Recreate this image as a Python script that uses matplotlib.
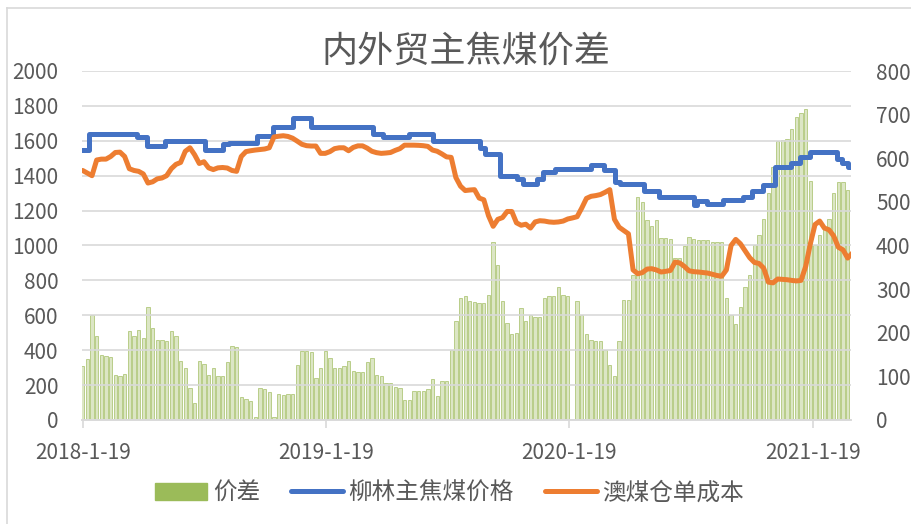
import numpy as np
import pandas as pd
import matplotlib
matplotlib.use('Agg')
import matplotlib.pyplot as plt
from matplotlib.lines import Line2D
from matplotlib.patches import Patch

plt.rcParams['font.family'] = ['Noto Sans CJK SC', 'DejaVu Sans']

# weekly spread (right axis)
spread = [124, 140, 240, 192, 150, 146, 144, 104, 102, 106,
          203, 192, 207, 188, 260, 211, 184, 184, 182, 203,
          192, 135, 120, 74, 40, 135, 128, 104, 120, 102,
          100, 134, 169, 168, 52, 48, 44, 8, 74, 72,
          64, 7, 59, 58, 60, 60, 127, 158, 159, 156,
          97, 120, 158, 142, 120, 120, 124, 135, 112, 110,
          110, 132, 142, 104, 102, 85, 84, 76, 74, 45,
          45, 66, 66, 66, 72, 93, 55, 89, 89, 160,
          226, 280, 284, 272, 270, 268, 268, 287, 409, 356,
          272, 222, 197, 200, 257, 226, 240, 236, 236, 280,
          284, 284, 306, 287, 284, 0, 272, 240, 196, 184,
          180, 180, 160, 127, 100, 180, 276, 276, 333, 512,
          500, 459, 444, 459, 417, 417, 416, 371, 371, 400,
          420, 416, 413, 413, 412, 409, 409, 409, 280, 240,
          219, 260, 306, 333, 402, 424, 460, 520, 580, 640,
          642, 644, 668, 695, 704, 714, 548, 402, 424, 440,
          460, 520, 546, 546, 527, 520]

# weekly Australian coal warehouse-receipt cost (left axis)
ao_cost = [1430, 1415, 1400, 1490, 1495, 1495, 1510, 1533, 1535, 1510,
           1440, 1430, 1425, 1410, 1358, 1365, 1382, 1387, 1400, 1440,
           1465, 1476, 1540, 1560, 1520, 1470, 1480, 1445, 1435, 1445,
           1447, 1444, 1430, 1425, 1510, 1538, 1543, 1547, 1550, 1553,
           1560, 1622, 1626, 1629, 1625, 1615, 1598, 1580, 1572, 1570,
           1570, 1528, 1528, 1538, 1555, 1560, 1560, 1543, 1562, 1571,
           1571, 1558, 1540, 1532, 1528, 1530, 1533, 1545, 1555, 1575,
           1575, 1575, 1574, 1572, 1568, 1547, 1540, 1525, 1508, 1505,
           1390, 1340, 1315, 1318, 1320, 1272, 1262, 1171, 1110, 1150,
           1160, 1195, 1195, 1130, 1116, 1122, 1100, 1135, 1142, 1140,
           1135, 1133, 1135, 1140, 1152, 1158, 1165, 1215, 1270, 1282,
           1286, 1292, 1305, 1320, 1150, 1105, 1086, 1067, 860, 838,
           845, 865, 867, 860, 848, 852, 857, 905, 900, 880,
           855, 850, 848, 845, 842, 835, 828, 824, 860, 1000,
           1035, 1010, 970, 930, 903, 897, 870, 790, 786, 808,
           806, 804, 800, 797, 800, 880, 1010, 1120, 1140, 1100,
           1090, 1055, 990, 975, 928, 956]

weeks = pd.date_range('2018-01-19', periods=len(spread), freq='7D')

# Liulin coking coal price: dates where the quote changed
liulin_dates = ['2018-01-19', '2018-01-28', '2018-04-11', '2018-04-26', '2018-05-23',
                '2018-07-22', '2018-08-18', '2018-08-26', '2018-10-08', '2018-11-01',
                '2018-11-30', '2018-12-28', '2019-03-30', '2019-04-14', '2019-05-23',
                '2019-06-29', '2019-09-08', '2019-09-15', '2019-10-08', '2019-11-02',
                '2019-11-11', '2019-12-02', '2019-12-11', '2019-12-29', '2020-02-21',
                '2020-03-12', '2020-03-28', '2020-04-05', '2020-05-11', '2020-06-02',
                '2020-07-25', '2020-07-29', '2020-08-13', '2020-09-06', '2020-10-06',
                '2020-10-20', '2020-11-05', '2020-11-23', '2020-12-17', '2020-12-31',
                '2021-01-15', '2021-02-24', '2021-03-04', '2021-03-13', '2021-03-19']
liulin_price = [1550, 1640, 1620, 1570, 1600, 1550, 1580, 1590, 1630, 1680,
                1730, 1680, 1640, 1620, 1640, 1600, 1560, 1525, 1400, 1380,
                1355, 1380, 1420, 1440, 1460, 1430, 1365, 1350, 1315, 1280,
                1230, 1257, 1240, 1260, 1280, 1315, 1345, 1450, 1475, 1505,
                1535, 1495, 1475, 1450, 1450]

tick_dates = ['2018-01-19', '2019-01-19', '2020-01-19', '2021-01-19']
tick_labels = ['2018-1-19', '2019-1-19', '2020-1-19', '2021-1-19']

c_bar = '#9BBB59'
c_blue = '#4472C4'
c_orange = '#ED7D31'
c_text = '#595959'
c_grid = '#D9D9D9'

fig = plt.figure(figsize=(9.12, 5.24), dpi=100)
ax = fig.add_axes([82/912, 1-420/524, (851-82)/912, (420-71)/524])
ax2 = ax.twinx()

ax2.bar(weeks, spread, width=5, color=(0.61, 0.73, 0.35, 0.35),
        edgecolor=(0.61, 0.73, 0.35, 0.75), linewidth=0.6)
ax2.set_ylim(0, 800)
ax2.set_yticks(np.arange(0, 801, 100))

ax.set_zorder(ax2.get_zorder() + 1)
ax.patch.set_visible(False)

ax.plot(pd.to_datetime(liulin_dates), liulin_price, color=c_blue, lw=3.6,
        drawstyle='steps-post', solid_joinstyle='round')
ax.plot(weeks, ao_cost, color=c_orange, lw=3.6, solid_joinstyle='round',
        solid_capstyle='round')

ax.set_ylim(0, 2000)
ax.set_yticks(np.arange(0, 2001, 200))
ax.set_xlim(pd.Timestamp('2018-01-18'), pd.Timestamp('2021-03-17'))
ax.set_xticks(pd.to_datetime(tick_dates))
ax.set_xticklabels(tick_labels)
ax.grid(axis='y', color=c_grid, lw=1.2)
ax.set_axisbelow(True)

for a in (ax, ax2):
    for s in ('top', 'left', 'right'):
        a.spines[s].set_visible(False)
    a.spines['bottom'].set_color(c_grid)
    a.spines['bottom'].set_linewidth(1.2)

ax.tick_params(axis='y', length=0, pad=17, labelsize=15, labelcolor=c_text)
ax2.tick_params(axis='y', length=0, pad=18, labelsize=15, labelcolor=c_text)
ax.tick_params(axis='x', length=6, color=c_grid, width=1.2, pad=10,
               labelsize=15, labelcolor=c_text)

fig.text(466/912, 1-52/524, '内外贸主焦煤价差', ha='center', va='center',
         fontsize=26, fontweight='light', color=c_text)

handles = [Patch(color=c_bar),
           Line2D([], [], color=c_blue, lw=3.6, solid_capstyle='round'),
           Line2D([], [], color=c_orange, lw=3.6, solid_capstyle='round')]
labels = ['价差', '柳林主焦煤价格', '澳煤仓单成本']
fig.legend(handles, labels, loc='center', bbox_to_anchor=(0.493, 1-493/524),
           ncol=3, frameon=False, fontsize=17, labelcolor=c_text,
           handlelength=2.2, handletextpad=0.25, columnspacing=1.3)

# chart area border
fig.add_artist(Line2D([7/912, 7/912], [0, 1-8/524], color=c_grid, lw=1.2))
fig.add_artist(Line2D([7/912, 1], [1-8/524, 1-8/524], color=c_grid, lw=1.2))

fig.savefig('out.png', dpi=100)
